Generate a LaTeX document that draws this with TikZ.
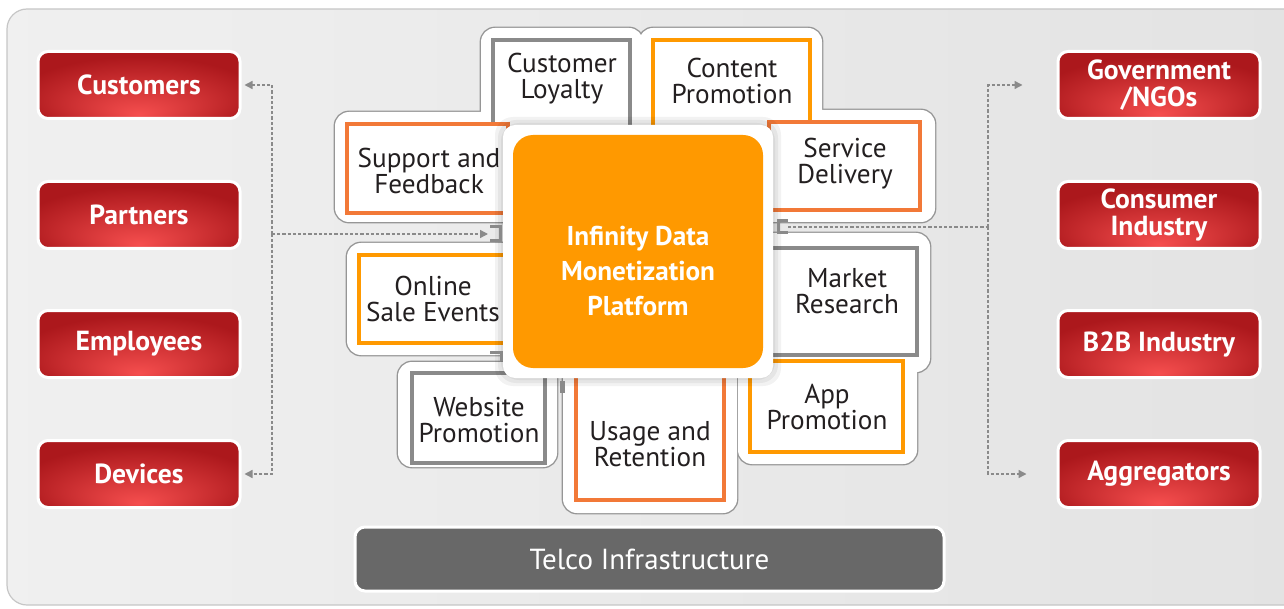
\documentclass[tikz,border=0pt]{standalone}
\usepackage{fontspec}
\setmainfont{PT Sans}
\usetikzlibrary{arrows.meta}
\definecolor{amber}{RGB}{255,153,0}
\definecolor{tangerine}{RGB}{242,121,56}
\definecolor{tilegray}{RGB}{138,138,138}
\definecolor{petalgray}{RGB}{150,150,150}
\definecolor{darkred}{RGB}{172,24,28}
\definecolor{glowred}{RGB}{245,78,78}
\definecolor{inkgray}{RGB}{35,31,32}
\definecolor{telcogray}{RGB}{104,104,104}
\pgfdeclareradialshading{redglow}{\pgfpoint{0bp}{-22bp}}{color(0bp)=(glowred); color(30bp)=(darkred); color(50bp)=(darkred)}
\tikzset{
  stakeholder/.style={shade, shading=redglow, draw=white, line width=1.5pt,
    rounded corners=5pt, minimum width=101pt, minimum height=33.5pt, inner sep=0pt,
    text=white, align=center, font=\fontsize{13.8}{13.5}\selectfont\bfseries},
  petal/.style={draw=petalgray, line width=1.4pt, rounded corners=7pt},
  tile/.style={fill=white, line width=2pt},
  tiletext/.style={text=inkgray, align=center, font=\fontsize{13.6}{13}\selectfont},
  flowline/.style={draw=tilegray, line width=.7pt, dash pattern=on 1.6pt off 1pt},
  arrowed/.style={-{Triangle[length=4pt,width=4pt]}},
  bracketmark/.style={draw=tilegray, line width=1.5pt},
}
\begin{document}
\begin{tikzpicture}[x=0.5pt, y=-0.5pt]
  \useasboundingbox (0,0) rectangle (1284,609);
  \clip (0,0) rectangle (1284,609);
  \draw[gray!45, line width=.6pt, rounded corners=10pt,
    left color=gray!12, middle color=gray!3, right color=gray!22] (7,9) rectangle (1310,605);

  \def\petallist{335/112/520/222, 481/28/643/150, 639/28/822/150, 760/110/935/222,
    347/243/520/355, 760/233/930/372, 398/362/557/467, 563/360/737/513, 738/350/917/464}
  \foreach \xa/\ya/\xb/\yb in \petallist
    \draw[petal] (\xa,\ya) rectangle (\xb,\yb);
  \foreach \xa/\ya/\xb/\yb in \petallist
    \fill[white, rounded corners=7pt] (\xa,\ya) rectangle (\xb,\yb);

  \draw[tile, draw=tilegray] (493,40) rectangle (630,170);
  \draw[tile, draw=amber] (653,40) rectangle (810,170);
  \draw[tile, draw=tangerine] (347,124) rectangle (508,213);
  \draw[tile, draw=tangerine] (769,122) rectangle (920,210);
  \draw[tile, draw=amber] (359,255) rectangle (560,343);
  \draw[tile, draw=tilegray] (720,248) rectangle (917,355);
  \draw[tile, draw=tilegray] (412,373) rectangle (545,463);
  \draw[tile, draw=tangerine] (576,340) rectangle (724,500);
  \draw[tile, draw=amber] (750,361) rectangle (903,452);

  \foreach \g in {8,5,2}
    \fill[black, opacity=.05, rounded corners=9pt] (503-\g,125-\g) rectangle (773+\g,378+\g);
  \fill[white, rounded corners=6pt] (503,125) rectangle (773,378);
  \node[fill=amber, rounded corners=10pt, minimum width=125pt, minimum height=116.5pt] (hub) at (638,251.5) {};
  \node[text=white, align=center, font=\fontsize{13.6}{17.5}\selectfont\bfseries] (hubname) at (638,271)
    {Infinity Data\\Monetization\\Platform};

  \node[tiletext] (loyalty) at (562,79) {Customer\\Loyalty};
  \node[tiletext] (content) at (732,81) {Content\\Promotion};
  \node[tiletext] (support) at (429,171) {Support and\\Feedback};
  \node[tiletext] (service) at (845,164) {Service\\Delivery};
  \node[tiletext] (online) at (433,299) {Online\\Sale Events};
  \node[tiletext] (market) at (847,291) {Market\\Research};
  \node[tiletext] (website) at (479,420) {Website\\Promotion};
  \node[tiletext] (usage) at (650,444) {Usage and\\Retention};
  \node[tiletext] (app) at (827,407) {App\\Promotion};

  \node[stakeholder] (cust) at (139,85) {Customers};
  \node[stakeholder] (part) at (139,215) {Partners};
  \node[stakeholder] (empl) at (139,344) {Employees};
  \node[stakeholder] (dev) at (139,474) {Devices};
  \node[stakeholder] (gov) at (1159,85) {Government\\/NGOs};
  \node[stakeholder] (cons) at (1159,215) {Consumer\\Industry};
  \node[stakeholder] (btob) at (1159,344) {B2B Industry};
  \node[stakeholder] (agg) at (1159,474) {Aggregators};

  \node[fill=telcogray, draw=white, line width=1.5pt, rounded corners=5pt,
    minimum width=294.5pt, minimum height=32pt, text=white,
    font=\fontsize{14.5}{14.5}\selectfont] (telco) at (649.5,559) {Telco Infrastructure};

  \coordinate (lbus) at (272,234);
  \coordinate (lport) at (488,234);
  \coordinate (rport) at (788,227);
  \coordinate (rbus) at (988,227);
  \draw[flowline, arrowed, shorten >=1.5pt] (lbus) |- (cust);
  \draw[flowline, arrowed, shorten >=1.5pt] (lbus) |- (dev);
  \draw[flowline, arrowed] (lbus) -- (lport);
  \draw[flowline] (rport) -- (rbus);
  \draw[flowline, arrowed, shorten >=17pt] (rbus) |- (gov);
  \draw[flowline, arrowed, shorten >=15pt] (rbus) |- (agg);

  \draw[bracketmark] (490,227) -- (500,227) -- (500,241) -- (490,241);
  \draw[bracketmark] (490,352) -- (501,352) -- (501,361);
  \draw[bracketmark, line width=2.5pt] (562,381) -- (562,393);
  \draw[bracketmark] (788,221) -- (778,221) -- (778,233) -- (788,233);
\end{tikzpicture}
\end{document}
